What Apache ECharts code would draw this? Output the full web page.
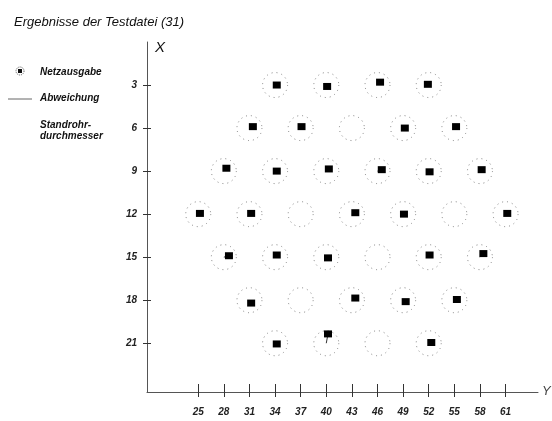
<!DOCTYPE html>
<html>
<head>
<meta charset="utf-8">
<script src="https://cdn.jsdelivr.net/npm/echarts@6/dist/echarts.min.js"></script>
<style>html,body{margin:0;padding:0;background:#fff}#c{width:552px;height:421px}</style>
</head>
<body>
<div id="c"></div>
<script>
// Standpipe (actual) positions: Y (horizontal) and X (vertical) coordinates
const standY = [34,40,46,52, 31,37,43,49,55, 28,34,40,46,52,58, 25,31,37,43,49,55,61, 28,34,40,46,52,58, 31,37,43,49,55, 34,40,46,52];
const standX = [3,3,3,3, 6,6,6,6,6, 9,9,9,9,9,9, 12,12,12,12,12,12,12, 15,15,15,15,15,15, 18,18,18,18,18, 21,21,21,21];
// Network output (null = no output shown), aligned with the standpipe arrays
const netY = [34.2,40.1,46.3,51.9, 31.4,37.1,null,49.2,55.2, 28.3,34.2,40.3,46.5,52.1,58.2, 25.2,31.2,null,43.4,49.1,null,61.2, 28.6,34.2,40.2,null,52.1,58.4, 31.2,null,43.4,49.3,55.3, 34.2,40.2,null,52.3];
const netX = [3.0,3.1,2.8,2.95, 5.9,5.9,null,6.0,5.9, 8.8,9.0,8.85,8.9,9.05,8.9, 11.95,11.95,null,11.9,12.0,null,11.95, 14.9,14.85,15.05,null,14.85,14.75, 18.2,null,17.85,18.1,17.95, 21.05,20.35,null,20.95];
// Tick labels
const yTicks = [25,28,31,34,37,40,43,46,49,52,55,58,61];
const xTicks = [3,6,9,12,15,18,21];
const titleText = 'Ergebnisse der Testdatei (31)';
const legendNames = ['Netzausgabe','Abweichung','Standrohr-\ndurchmesser'];

const FONT = '"Liberation Sans", Arial, sans-serif';
const standData = standY.map((v,i)=>[v, standX[i]]);
const netData = [];
const devData = [];
netY.forEach((v,i)=>{
  if (v == null) return;
  netData.push([v, netX[i]]);
  devData.push({coords: [[standY[i], standX[i]], [v, netX[i]]]});
});

const labelStyle = {fontFamily: FONT, fontSize: 10, fontWeight: 'bold', fontStyle: 'italic', color: '#222'};

const chart = echarts.init(document.getElementById('c'), null, {renderer: 'canvas'});
chart.setOption({
  animation: false,
  backgroundColor: '#fff',
  title: {
    text: titleText, left: 9, top: 11,
    textStyle: {fontFamily: FONT, fontSize: 13, fontStyle: 'italic', fontWeight: 'normal', color: '#111'}
  },
  grid: {left: 147, right: 14, top: 42, bottom: 29, containLabel: false},
  xAxis: [
    {type: 'value', min: 19, max: 64.8, position: 'bottom',
     axisLine: {show: true, onZero: false, lineStyle: {color: '#555', width: 1}},
     axisTick: {show: true, length: 5, customValues: yTicks, lineStyle: {color: '#333'}},
     axisLabel: {show: true, customValues: yTicks, margin: 15, ...labelStyle},
     splitLine: {show: false}},
    {type: 'value', min: 19, max: 64.8, position: 'top', offset: -350,
     axisLine: {show: true, onZero: false, lineStyle: {opacity: 0}},
     axisTick: {show: true, length: 8, customValues: yTicks, lineStyle: {color: '#333'}},
     axisLabel: {show: false, customValues: yTicks}, splitLine: {show: false}}
  ],
  yAxis: [
    {type: 'value', min: 0, max: 24.4, inverse: true, position: 'left',
     axisLine: {show: true, onZero: false, lineStyle: {color: '#555', width: 1}},
     axisTick: {show: true, length: 4, customValues: xTicks, lineStyle: {color: '#333'}},
     axisLabel: {show: true, customValues: xTicks, margin: 10, ...labelStyle},
     splitLine: {show: false}},
    {type: 'value', min: 0, max: 24.4, inverse: true, position: 'right', offset: -391,
     axisLine: {show: true, onZero: false, lineStyle: {opacity: 0}},
     axisTick: {show: true, length: 4, customValues: xTicks, lineStyle: {color: '#333'}},
     axisLabel: {show: false, customValues: xTicks}, splitLine: {show: false}}
  ],
  graphic: [
    {type: 'text', left: 155, top: 40, style: {text: 'X', font: 'italic 15px ' + FONT, fill: '#111'}},
    {type: 'text', left: 542, top: 385, style: {text: 'Y', font: 'italic 13px ' + FONT, fill: '#444'}},
    {type: 'circle', shape: {cx: 20, cy: 71, r: 4}, style: {fill: 'none', stroke: '#555', lineWidth: 1, lineDash: [1,1]}},
    {type: 'rect', shape: {x: 18, y: 69, width: 4, height: 4}, style: {fill: '#111'}},
    {type: 'text', x: 40, y: 72, style: {text: legendNames[0], font: 'italic bold 10px ' + FONT, fill: '#111', textVerticalAlign: 'middle'}},
    {type: 'line', shape: {x1: 8, y1: 99, x2: 32, y2: 99}, style: {stroke: '#666', lineWidth: 1}},
    {type: 'text', x: 40, y: 98, style: {text: legendNames[1], font: 'italic bold 10px ' + FONT, fill: '#111', textVerticalAlign: 'middle'}},
    {type: 'text', x: 40, y: 120, style: {text: legendNames[2], font: 'italic bold 10px ' + FONT, fill: '#111', lineHeight: 11}}
  ],
  series: [
    {name: 'Standrohrdurchmesser', type: 'scatter', xAxisIndex: 1, yAxisIndex: 1, data: standData, symbol: 'circle', symbolSize: 25, silent: true,
     itemStyle: {color: 'rgba(0,0,0,0)', borderColor: '#666', borderWidth: 1, borderType: [1,4]}, z: 1},
    {name: 'Abweichung', type: 'lines', coordinateSystem: 'cartesian2d', xAxisIndex: 0, yAxisIndex: 0, data: devData, silent: true,
     lineStyle: {color: '#333', width: 1, opacity: 1}, z: 2},
    {name: 'Netzausgabe', type: 'scatter', xAxisIndex: 0, yAxisIndex: 0, data: netData, symbol: 'rect', symbolSize: [8,7], silent: true,
     itemStyle: {color: '#000', opacity: 1}, z: 3}
  ]
});
</script>
</body>
</html>
